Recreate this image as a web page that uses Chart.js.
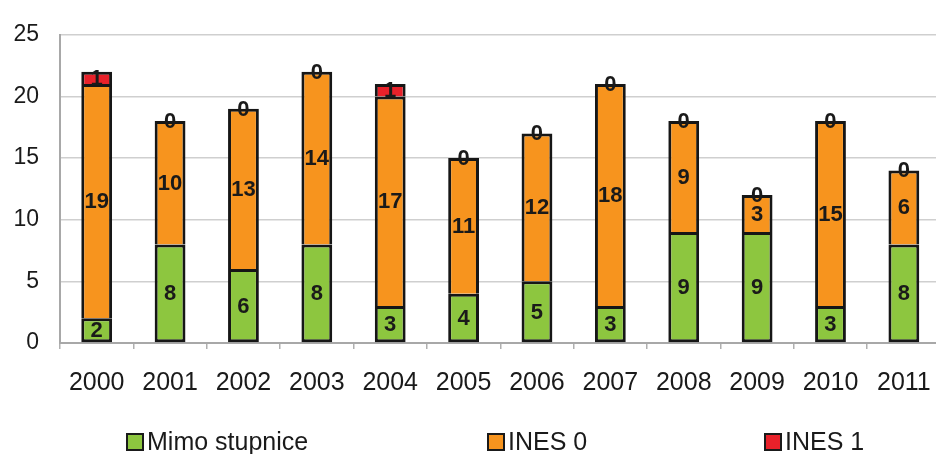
<!DOCTYPE html>
<html>
<head>
<meta charset="utf-8">
<script src="https://cdn.jsdelivr.net/npm/chart.js@4"></script>
<style>
  html, body { margin:0; padding:0; background:#fff; overflow:hidden; }
  #wrap { position:absolute; left:0; top:0; width:950px; height:454px; }
</style>
</head>
<body>
<div id="wrap"><canvas id="chart" width="950" height="454"></canvas></div>
<script>
// data
const years = ['2000','2001','2002','2003','2004','2005','2006','2007','2008','2009','2010','2011'];
const mimoStupnice = [2, 8, 6, 8, 3, 4, 5, 3, 9, 9, 3, 8];
const ines0 = [19, 10, 13, 14, 17, 11, 12, 18, 9, 3, 15, 6];
const ines1 = [1, 0, 0, 0, 1, 0, 0, 0, 0, 0, 0, 0];

const FONT = '"Liberation Sans", Arial, sans-serif';
const TXT = '#1a1a1a';

// value labels inside the segments ("0" sits on the bar top)
const valueLabels = {
  id: 'valueLabels',
  afterDatasetsDraw(chart) {
    const ctx = chart.ctx;
    ctx.save();
    ctx.font = 'bold 22px ' + FONT;
    ctx.fillStyle = TXT;
    ctx.textAlign = 'center';
    ctx.textBaseline = 'middle';
    chart.data.datasets.forEach((ds, i) => {
      const meta = chart.getDatasetMeta(i);
      meta.data.forEach((el, j) => {
        const v = ds.data[j];
        const y = v === 0 ? el.y : (el.y + el.base) / 2;
        ctx.fillText(String(v), el.x, y + 1);
      });
    });
    ctx.restore();
  }
};

// Excel-like legend at fixed spots
const slotLegend = {
  id: 'slotLegend',
  afterDraw(chart) {
    const ctx = chart.ctx;
    const xs = [127, 488, 765];
    const cy = 442;
    ctx.save();
    ctx.font = '25px ' + FONT;
    ctx.textBaseline = 'middle';
    chart.data.datasets.forEach((ds, i) => {
      const x = xs[i];
      ctx.fillStyle = ds.backgroundColor;
      ctx.fillRect(x, cy - 8, 16, 16);
      ctx.lineWidth = 2;
      ctx.strokeStyle = '#1a1a1a';
      ctx.strokeRect(x, cy - 8, 16, 16);
      ctx.fillStyle = TXT;
      ctx.fillText(ds.label, x + 20, cy + 1);
    });
    ctx.restore();
  }
};

const common = { borderColor:'#161616', borderWidth:3, inflateAmount:0, barPercentage:0.42, categoryPercentage:1 };

new Chart(document.getElementById('chart'), {
  type: 'bar',
  data: {
    labels: years,
    datasets: [
      { label:'Mimo stupnice', data:mimoStupnice, backgroundColor:'#8dc63f', borderSkipped:false, ...common },
      { label:'INES 0', data:ines0, backgroundColor:'#f7941e', borderSkipped:'start', ...common },
      { label:'INES 1', data:ines1, backgroundColor:'#e8212a', borderSkipped:'start', ...common }
    ]
  },
  options: {
    responsive:false, animation:false,
    layout: { padding:{ top:25, right:6, left:0, bottom:50 } },
    plugins: { legend:{ display:false }, tooltip:{ enabled:false } },
    scales: {
      x: {
        stacked:true,
        offset:true,
        afterFit: s => { s.height = 61; },
        grid: { offset:true, drawOnChartArea:false, drawTicks:true, tickLength:6, color:'#b0b0b0', lineWidth:1.5 },
        border: { color:'#a8a8a8', width:2 },
        ticks: { color:TXT, font:{ family:FONT, size:25 }, padding:19, maxRotation:0, autoSkip:false }
      },
      y: {
        stacked:true, min:0, max:25,
        afterFit: s => { s.width = 60; },
        grid: { color:'#cfcfcf', lineWidth:1.5, drawTicks:false },
        border: { color:'#a8a8a8', width:2 },
        ticks: { stepSize:5, color:TXT, font:{ family:FONT, size:23 }, padding:21 }
      }
    }
  },
  plugins: [valueLabels, slotLegend]
});
</script>
</body>
</html>
